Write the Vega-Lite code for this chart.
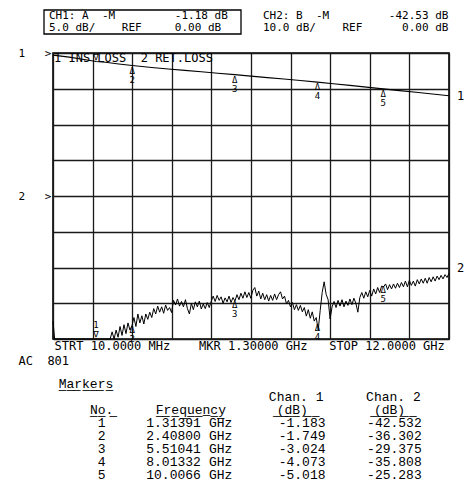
{
  "$schema": "https://vega.github.io/schema/vega-lite/v6.json",
  "padding": {"left": 17, "top": 9, "right": 5, "bottom": 2},
  "background": "white",
  "spacing": 11,
  "config": {
    "view": {"stroke": "black", "strokeWidth": 1.6},
    "font": "DejaVu Sans Mono",
    "text": {"color": "black"}
  },
  "datasets": {
    "header": [
      {"block": "CH1", "line": "a", "text": "CH1:\u00a0A\u00a0\u00a0-M\u00a0\u00a0\u00a0\u00a0\u00a0\u00a0\u00a0\u00a0\u00a0-1.18\u00a0dB"},
      {"block": "CH1", "line": "b", "text": "\u00a05.0\u00a0dB/\u00a0\u00a0\u00a0\u00a0REF\u00a0\u00a0\u00a0\u00a0\u00a00.00\u00a0dB"},
      {"block": "CH2", "line": "a", "text": "CH2:\u00a0B\u00a0\u00a0-M\u00a0\u00a0\u00a0\u00a0\u00a0\u00a0\u00a0\u00a0\u00a0-42.53\u00a0dB"},
      {"block": "CH2", "line": "b", "text": "10.0\u00a0dB/\u00a0\u00a0\u00a0\u00a0REF\u00a0\u00a0\u00a0\u00a0\u00a0\u00a00.00\u00a0dB"}
    ],
    "ch1": [
      {"f": 0.01, "d": -0.3}, {"f": 0.5, "d": -0.58}, {"f": 1.0, "d": -0.95}, {"f": 1.314, "d": -1.18},
      {"f": 1.6, "d": -1.3}, {"f": 2.0, "d": -1.53}, {"f": 2.408, "d": -1.75}, {"f": 3.0, "d": -2.03},
      {"f": 3.5, "d": -2.24}, {"f": 4.0, "d": -2.43}, {"f": 4.5, "d": -2.63}, {"f": 5.0, "d": -2.83},
      {"f": 5.51, "d": -3.02}, {"f": 6.0, "d": -3.23}, {"f": 6.5, "d": -3.44}, {"f": 7.0, "d": -3.64},
      {"f": 7.5, "d": -3.85}, {"f": 8.013, "d": -4.07}, {"f": 8.5, "d": -4.3}, {"f": 9.0, "d": -4.53},
      {"f": 9.5, "d": -4.77}, {"f": 10.007, "d": -5.02}, {"f": 10.5, "d": -5.26}, {"f": 11.0, "d": -5.5},
      {"f": 11.5, "d": -5.74}, {"f": 12.0, "d": -5.98}
    ],
    "ch2": [
      {"f":0.01,"d":-35},
      {"f":0.06,"d":-44},{"f":0.12,"d":-46},{"f":0.18,"d":-45},{"f":0.24,"d":-47},{"f":0.3,"d":-44},{"f":0.36,"d":-45},{"f":0.42,"d":-46},{"f":0.48,"d":-44},{"f":0.54,"d":-47},{"f":0.6,"d":-45},{"f":0.66,"d":-46},{"f":0.72,"d":-44},{"f":0.78,"d":-45},{"f":0.84,"d":-47},{"f":0.9,"d":-46},{"f":0.96,"d":-44},{"f":1.02,"d":-45},{"f":1.08,"d":-46},{"f":1.14,"d":-44},{"f":1.2,"d":-47},{"f":1.26,"d":-45},{"f":1.32,"d":-43},{"f":1.38,"d":-45},{"f":1.44,"d":-44},{"f":1.5,"d":-46},{"f":1.56,"d":-43},{"f":1.62,"d":-44},{"f":1.68,"d":-42},
      {"f":1.74,"d":-41},{"f":1.8,"d":-38},{"f":1.86,"d":-40.5},{"f":1.92,"d":-37.5},{"f":1.98,"d":-39.5},{"f":2.04,"d":-36.5},{"f":2.1,"d":-39},{"f":2.16,"d":-36},{"f":2.22,"d":-38.5},{"f":2.28,"d":-35.5},{"f":2.34,"d":-37.5},{"f":2.4,"d":-36.3},{"f":2.46,"d":-34},{"f":2.52,"d":-36.5},{"f":2.58,"d":-33},{"f":2.64,"d":-35.5},{"f":2.7,"d":-33.5},{"f":2.76,"d":-35.8},{"f":2.82,"d":-33},{"f":2.88,"d":-34.5},{"f":2.94,"d":-32.5},{"f":3.0,"d":-34},{"f":3.06,"d":-31.5},{"f":3.12,"d":-33},{"f":3.18,"d":-30.8},{"f":3.24,"d":-32.5},{"f":3.3,"d":-31},{"f":3.36,"d":-32.8},{"f":3.42,"d":-30.5},{"f":3.48,"d":-32},{"f":3.54,"d":-31.2},{"f":3.6,"d":-32.6},{"f":3.66,"d":-29.2},{"f":3.72,"d":-30.5},{"f":3.78,"d":-28.8},{"f":3.84,"d":-30.8},{"f":3.9,"d":-29.5},{"f":3.96,"d":-31},{"f":4.02,"d":-29},{"f":4.08,"d":-31.5},{"f":4.14,"d":-33},{"f":4.2,"d":-30},{"f":4.26,"d":-31.8},{"f":4.32,"d":-29.6},{"f":4.38,"d":-31},{"f":4.44,"d":-29.4},{"f":4.5,"d":-31.6},{"f":4.56,"d":-30.2},{"f":4.62,"d":-31.5},{"f":4.68,"d":-29.8},{"f":4.74,"d":-31.2},{"f":4.8,"d":-29.5},{"f":4.86,"d":-28},{"f":4.92,"d":-29.5},{"f":4.98,"d":-27.8},{"f":5.04,"d":-29.2},{"f":5.1,"d":-28.2},{"f":5.16,"d":-30},{"f":5.22,"d":-28.5},{"f":5.28,"d":-29.6},{"f":5.34,"d":-28},{"f":5.4,"d":-29.8},{"f":5.46,"d":-28.4},{"f":5.52,"d":-29.4},{"f":5.58,"d":-27.6},{"f":5.64,"d":-29},{"f":5.7,"d":-27.2},{"f":5.76,"d":-28.6},{"f":5.82,"d":-26.8},{"f":5.88,"d":-28.4},{"f":5.94,"d":-27},{"f":6.0,"d":-28.6},{"f":6.06,"d":-26.4},{"f":6.12,"d":-25.6},{"f":6.18,"d":-28},{"f":6.24,"d":-26.6},{"f":6.3,"d":-28.8},{"f":6.36,"d":-27.2},{"f":6.42,"d":-29},{"f":6.48,"d":-27.6},{"f":6.54,"d":-29.4},{"f":6.6,"d":-27.8},{"f":6.66,"d":-29.2},{"f":6.72,"d":-27.4},{"f":6.78,"d":-29},{"f":6.84,"d":-27.6},{"f":6.9,"d":-26.8},{"f":6.96,"d":-28.8},{"f":7.02,"d":-28},{"f":7.08,"d":-30.2},{"f":7.14,"d":-29.2},{"f":7.2,"d":-31},{"f":7.26,"d":-29.8},{"f":7.32,"d":-31.8},{"f":7.38,"d":-30.4},{"f":7.44,"d":-32},{"f":7.5,"d":-30.6},{"f":7.56,"d":-32.4},{"f":7.62,"d":-31.2},{"f":7.68,"d":-33.6},{"f":7.74,"d":-31.8},{"f":7.8,"d":-34.2},{"f":7.86,"d":-32.4},{"f":7.92,"d":-35},{"f":7.98,"d":-34},{"f":8.04,"d":-37.5},{"f":8.1,"d":-32},{"f":8.16,"d":-27},{"f":8.22,"d":-24},{"f":8.28,"d":-27.5},{"f":8.34,"d":-29},{"f":8.4,"d":-34.4},{"f":8.46,"d":-31},{"f":8.52,"d":-29.5},{"f":8.58,"d":-31.2},{"f":8.64,"d":-29.2},{"f":8.7,"d":-30.8},{"f":8.76,"d":-29},{"f":8.82,"d":-31},{"f":8.88,"d":-29.4},{"f":8.94,"d":-30.6},{"f":9.0,"d":-28.8},{"f":9.06,"d":-30.4},{"f":9.12,"d":-28.6},{"f":9.18,"d":-30},{"f":9.24,"d":-32.5},{"f":9.3,"d":-28.4},{"f":9.36,"d":-27},{"f":9.42,"d":-28.6},{"f":9.48,"d":-26.8},{"f":9.54,"d":-28.2},{"f":9.6,"d":-26.4},{"f":9.66,"d":-28},{"f":9.72,"d":-26},{"f":9.78,"d":-27.4},{"f":9.84,"d":-25.6},{"f":9.9,"d":-27},{"f":9.96,"d":-25.2},{"f":10.02,"d":-25.4},{"f":10.08,"d":-24.6},{"f":10.14,"d":-26.2},{"f":10.2,"d":-24.8},{"f":10.26,"d":-26},{"f":10.32,"d":-24.6},{"f":10.38,"d":-25.8},{"f":10.44,"d":-24.4},{"f":10.5,"d":-25.6},{"f":10.56,"d":-24.2},{"f":10.62,"d":-25.4},{"f":10.68,"d":-23.8},{"f":10.74,"d":-25.4},{"f":10.8,"d":-23.6},{"f":10.86,"d":-25},{"f":10.92,"d":-23.8},{"f":10.98,"d":-25.2},{"f":11.04,"d":-23.4},{"f":11.1,"d":-24.6},{"f":11.16,"d":-23.2},{"f":11.22,"d":-24.4},{"f":11.28,"d":-23},{"f":11.34,"d":-24.4},{"f":11.4,"d":-22.8},{"f":11.46,"d":-24},{"f":11.52,"d":-22.6},{"f":11.58,"d":-23.8},{"f":11.64,"d":-22.4},{"f":11.7,"d":-23.4},{"f":11.76,"d":-22.2},{"f":11.82,"d":-23.2},{"f":11.88,"d":-22},{"f":11.94,"d":-22.8},{"f":12.0,"d":-21.6}
    ],
    "markers": [
      {"no": 1, "f": 1.31391, "ch1": -1.183, "ch2": -42.532},
      {"no": 2, "f": 2.408, "ch1": -1.749, "ch2": -36.302},
      {"no": 3, "f": 5.51041, "ch1": -3.024, "ch2": -29.375},
      {"no": 4, "f": 8.01332, "ch1": -4.073, "ch2": -35.808},
      {"no": 5, "f": 10.0066, "ch1": -5.018, "ch2": -25.283}
    ],
    "headers": [
      {"col": "No.", "row": 0, "text": "N\u0332o\u0332.\u0332"},
      {"col": "Chan. 1", "row": -1, "text": "Chan. 1"},
      {"col": "Chan. 1", "row": 0, "text": "\u00a0\u0332(\u0332d\u0332B\u0332)\u0332\u00a0\u0332"},
      {"col": "Chan. 2", "row": -1, "text": "Chan. 2"},
      {"col": "Chan. 2", "row": 0, "text": "\u00a0\u0332(\u0332d\u0332B\u0332)\u0332\u00a0\u0332"}
    ]
  },
  "vconcat": [
    {
      "width": 396,
      "height": 24,
      "view": {"stroke": null},
      "data": {"name": "header"},
      "layer": [
        {
          "transform": [{"filter": "datum.block == 'CH1' && datum.line == 'a'"}],
          "mark": {"type": "rect", "fill": "transparent", "stroke": "black", "strokeWidth": 1.3},
          "encoding": {
            "x": {
              "field": "block", "type": "nominal",
              "scale": {"type": "band", "domain": ["CH1", "CH2"], "range": [-9, 385], "paddingInner": 0, "paddingOuter": 0},
              "axis": null
            }
          }
        },
        {
          "transform": [{"filter": "datum.block == 'CH1'"}],
          "mark": {"type": "text", "align": "left", "baseline": "middle", "dx": 5, "fontSize": 11, "font": "DejaVu Sans Mono"},
          "encoding": {
            "x": {"field": "block", "type": "nominal", "bandPosition": 0, "axis": null},
            "y": {"field": "line", "type": "nominal", "scale": {"type": "point", "domain": ["a", "b"], "padding": 0.5}, "axis": null},
            "text": {"field": "text", "type": "nominal"}
          }
        },
        {
          "transform": [{"filter": "datum.block == 'CH2'"}],
          "mark": {"type": "text", "align": "left", "baseline": "middle", "dx": 22, "fontSize": 11, "font": "DejaVu Sans Mono"},
          "encoding": {
            "x": {"field": "block", "type": "nominal", "bandPosition": 0, "axis": null},
            "y": {"field": "line", "type": "nominal", "axis": null},
            "text": {"field": "text", "type": "nominal"}
          }
        }
      ]
    },
    {
      "width": 396,
      "height": 286,
      "resolve": {"scale": {"y": "independent"}, "axis": {"y": "independent"}},
      "layer": [
        {
          "data": {"name": "ch1"},
          "layer": [
            {
              "mark": {"type": "line", "color": "black", "strokeWidth": 1.1},
              "encoding": {
                "x": {
                  "field": "f", "type": "quantitative",
                  "scale": {"domain": [0.01, 12], "nice": false, "zero": false},
                  "axis": {
                    "values": [0.01, 1.209, 2.408, 3.607, 4.806, 6.005, 7.204, 8.403, 9.602, 10.801, 12],
                    "tickCount": 30,
                    "grid": true, "gridColor": "#1a1a1a", "gridWidth": 1.3, "gridOpacity": 1,
                    "labels": false, "ticks": false, "tickSize": 0, "domain": false,
                    "title": [
                      "\u200b\u00a0\u00a0\u00a0\u00a0\u00a0STRT\u00a010.0000\u00a0MHz\u00a0\u00a0\u00a0\u00a0MKR\u00a01.30000\u00a0GHz\u00a0\u00a0\u00a0STOP\u00a012.0000\u00a0GHz",
                      "AC\u00a0\u00a0801"
                    ],
                    "titleFont": "DejaVu Sans Mono", "titleFontSize": 12, "titleFontWeight": "normal",
                    "titleAnchor": "start", "titleAlign": "left", "titleX": -35, "titleLineHeight": 15,
                    "titlePadding": 1, "titleColor": "black"
                  }
                },
                "y": {
                  "field": "d", "type": "quantitative",
                  "scale": {"domain": [-40, 0], "nice": false, "zero": false},
                  "axis": {
                    "values": [0, -5, -10, -15, -20, -25, -30, -35, -40],
                    "tickCount": 30,
                    "grid": true, "gridColor": "#1a1a1a", "gridWidth": 1.3, "gridOpacity": 1,
                    "ticks": false, "tickSize": 0, "domain": false, "labelOverlap": false,
                    "labelExpr": "datum.value == 0 ? '1\u00a0\u00a0\u00a0>' : datum.value == -20 ? '2\u00a0\u00a0\u00a0>' : ''",
                    "labelFont": "DejaVu Sans Mono", "labelFontSize": 11, "labelPadding": 2, "labelColor": "black",
                    "title": null
                  }
                }
              }
            },
            {
              "transform": [{"filter": "datum.f == 12"}],
              "mark": {"type": "text", "align": "left", "baseline": "middle", "dx": 8, "fontSize": 12, "font": "DejaVu Sans Mono"},
              "encoding": {
                "x": {"field": "f", "type": "quantitative"},
                "y": {"field": "d", "type": "quantitative"},
                "text": {"value": "1"}
              }
            },
            {
              "data": {"name": "markers"},
              "transform": [{"filter": "datum.no > 1"}],
              "mark": {"type": "text", "baseline": "top", "dy": 1, "fontSize": 9, "font": "DejaVu Sans Mono"},
              "encoding": {
                "x": {"field": "f", "type": "quantitative"},
                "y": {"field": "ch1", "type": "quantitative"},
                "text": {"value": "\u0394"}
              }
            },
            {
              "data": {"name": "markers"},
              "transform": [{"filter": "datum.no > 1"}],
              "mark": {"type": "text", "baseline": "top", "dy": 10, "fontSize": 9, "font": "DejaVu Sans Mono"},
              "encoding": {
                "x": {"field": "f", "type": "quantitative"},
                "y": {"field": "ch1", "type": "quantitative"},
                "text": {"field": "no", "type": "nominal"}
              }
            },
            {
              "data": {"name": "markers"},
              "transform": [{"filter": "datum.no == 1"}],
              "mark": {"type": "text", "baseline": "bottom", "dy": 1, "fontSize": 9, "font": "DejaVu Sans Mono"},
              "encoding": {
                "x": {"field": "f", "type": "quantitative"},
                "y": {"field": "ch1", "type": "quantitative"},
                "text": {"value": "\u2207"}
              }
            },
            {
              "data": {"values": [{"label": "1\u00a0INS\u00a0LOSS\u00a0\u00a02\u00a0RET.LOSS"}]},
              "mark": {"type": "text", "align": "left", "baseline": "middle", "dx": 1, "dy": 5, "fontSize": 12, "font": "DejaVu Sans Mono"},
              "encoding": {
                "x": {"datum": 0.01, "type": "quantitative"},
                "y": {"datum": 0, "type": "quantitative"},
                "text": {"field": "label", "type": "nominal"}
              }
            }
          ]
        },
        {
          "data": {"name": "ch2"},
          "layer": [
            {
              "mark": {"type": "line", "color": "black", "strokeWidth": 1},
              "encoding": {
                "x": {"field": "f", "type": "quantitative"},
                "y": {
                  "field": "d", "type": "quantitative",
                  "scale": {"domain": [-40, 40], "nice": false, "zero": false, "clamp": true},
                  "axis": null
                }
              }
            },
            {
              "transform": [{"filter": "datum.f == 12"}],
              "mark": {"type": "text", "align": "left", "baseline": "middle", "dx": 8, "dy": -5, "fontSize": 12, "font": "DejaVu Sans Mono"},
              "encoding": {
                "x": {"field": "f", "type": "quantitative"},
                "y": {"field": "d", "type": "quantitative", "axis": null},
                "text": {"value": "2"}
              }
            },
            {
              "data": {"name": "markers"},
              "transform": [{"filter": "datum.no > 1"}],
              "mark": {"type": "text", "baseline": "top", "dy": 0, "fontSize": 9, "font": "DejaVu Sans Mono"},
              "encoding": {
                "x": {"field": "f", "type": "quantitative"},
                "y": {"field": "ch2", "type": "quantitative", "axis": null},
                "text": {"value": "\u0394"}
              }
            },
            {
              "data": {"name": "markers"},
              "transform": [{"filter": "datum.no > 1"}],
              "mark": {"type": "text", "baseline": "top", "dy": 9, "fontSize": 9, "font": "DejaVu Sans Mono"},
              "encoding": {
                "x": {"field": "f", "type": "quantitative"},
                "y": {"field": "ch2", "type": "quantitative", "axis": null},
                "text": {"field": "no", "type": "nominal"}
              }
            },
            {
              "data": {"name": "markers"},
              "transform": [{"filter": "datum.no == 1"}],
              "mark": {"type": "text", "baseline": "bottom", "dy": 0, "fontSize": 9, "font": "DejaVu Sans Mono"},
              "encoding": {
                "x": {"field": "f", "type": "quantitative"},
                "y": {"field": "ch2", "type": "quantitative", "axis": null},
                "text": {"value": "\u2207"}
              }
            },
            {
              "data": {"name": "markers"},
              "transform": [{"filter": "datum.no == 1"}],
              "mark": {"type": "text", "baseline": "bottom", "dy": -9, "fontSize": 9, "font": "DejaVu Sans Mono"},
              "encoding": {
                "x": {"field": "f", "type": "quantitative"},
                "y": {"field": "ch2", "type": "quantitative", "axis": null},
                "text": {"field": "no", "type": "nominal"}
              }
            }
          ]
        }
      ]
    },
    {
      "width": 389,
      "height": 99,
      "view": {"stroke": null},
      "layer": [
        {
          "data": {"name": "headers"},
          "mark": {"type": "text", "font": "Liberation Mono", "fontSize": 13, "baseline": "middle"},
          "encoding": {
            "x": {
              "field": "col", "type": "nominal",
              "scale": {"type": "point", "domain": ["No.", "Frequency", "Chan. 1", "Chan. 2"], "padding": 0.5},
              "axis": null
            },
            "y": {
              "field": "row", "type": "ordinal",
              "scale": {"type": "point", "domain": [-2, -1, 0, 1, 2, 3, 4, 5], "padding": 0.31},
              "axis": null
            },
            "text": {"field": "text", "type": "nominal"}
          }
        },
        {
          "data": {"values": [{"text": "F\u0332r\u0332e\u0332q\u0332u\u0332e\u0332n\u0332c\u0332y\u0332"}]},
          "mark": {"type": "text", "font": "Liberation Mono", "fontSize": 13, "baseline": "middle", "dx": -8},
          "encoding": {
            "x": {"datum": "Frequency", "type": "nominal", "axis": null},
            "y": {"datum": 0, "type": "ordinal", "axis": null},
            "text": {"field": "text", "type": "nominal"}
          }
        },
        {
          "data": {"values": [{"text": "M\u0332a\u0332r\u0332k\u0332e\u0332r\u0332s\u0332"}]},
          "mark": {"type": "text", "font": "Liberation Mono", "fontSize": 13, "baseline": "middle", "align": "left", "dx": -43},
          "encoding": {
            "x": {"datum": "No.", "type": "nominal", "axis": null},
            "y": {"datum": -2, "type": "ordinal", "axis": null},
            "text": {"field": "text", "type": "nominal"}
          }
        },
        {
          "data": {"name": "markers"},
          "mark": {"type": "text", "font": "Liberation Mono", "fontSize": 13, "baseline": "middle"},
          "encoding": {
            "x": {"datum": "No.", "type": "nominal", "axis": null},
            "y": {"field": "no", "type": "ordinal", "axis": null},
            "text": {"field": "no", "type": "nominal"}
          }
        },
        {
          "data": {"name": "markers"},
          "mark": {"type": "text", "font": "Liberation Mono", "fontSize": 13, "baseline": "middle", "align": "right", "dx": 2},
          "encoding": {
            "x": {"datum": "Frequency", "type": "nominal", "axis": null},
            "y": {"field": "no", "type": "ordinal", "axis": null},
            "text": {"field": "f", "type": "quantitative", "format": ".6r"}
          }
        },
        {
          "data": {"name": "markers"},
          "mark": {"type": "text", "font": "Liberation Mono", "fontSize": 13, "baseline": "middle", "align": "left", "dx": 10},
          "encoding": {
            "x": {"datum": "Frequency", "type": "nominal", "axis": null},
            "y": {"field": "no", "type": "ordinal", "axis": null},
            "text": {"value": "GHz"}
          }
        },
        {
          "data": {"name": "markers"},
          "mark": {"type": "text", "font": "Liberation Mono", "fontSize": 13, "baseline": "middle", "dx": 6},
          "encoding": {
            "x": {"datum": "Chan. 1", "type": "nominal", "axis": null},
            "y": {"field": "no", "type": "ordinal", "axis": null},
            "text": {"field": "ch1", "type": "nominal"}
          }
        },
        {
          "data": {"name": "markers"},
          "mark": {"type": "text", "font": "Liberation Mono", "fontSize": 13, "baseline": "middle", "dx": 1},
          "encoding": {
            "x": {"datum": "Chan. 2", "type": "nominal", "axis": null},
            "y": {"field": "no", "type": "ordinal", "axis": null},
            "text": {"field": "ch2", "type": "nominal"}
          }
        }
      ]
    }
  ]
}
